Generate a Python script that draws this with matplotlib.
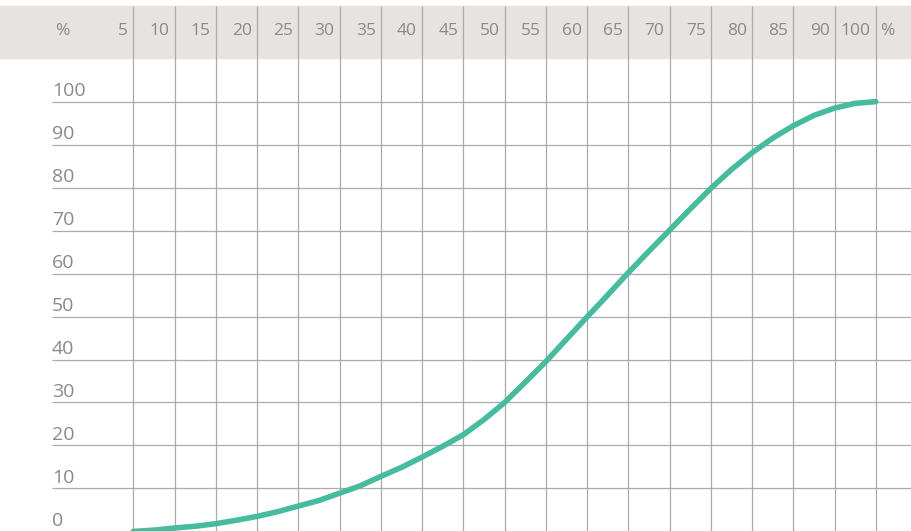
import matplotlib.pyplot as plt
import numpy as np

# Etiquetas de la cabecera (columnas) y del eje vertical
header_labels = ['5', '10', '15', '20', '25', '30', '35', '40', '45', '50',
                 '55', '60', '65', '70', '75', '80', '85', '90', '100']
y_labels = [0, 10, 20, 30, 40, 50, 60, 70, 80, 90, 100]

curve_cols = [0, 0.5, 1, 1.5, 2, 2.5, 3, 3.5, 4, 4.5, 5, 5.5, 6, 6.5, 7, 7.5,
              8, 8.5, 9, 9.5, 10, 10.5, 11, 11.5, 12, 12.5, 13, 13.5, 14,
              14.5, 15, 15.5, 16, 16.5, 17, 17.5, 18]
curve_vals = [0, 0.3, 0.8, 1.2, 1.8, 2.6, 3.5, 4.6, 5.9, 7.2, 8.9, 10.6,
              12.8, 14.9, 17.3, 19.8, 22.5, 26.0, 30.0, 34.7, 39.5, 44.7,
              49.9, 55.0, 60.2, 65.2, 70.1, 75.0, 79.8, 84.2, 88.1, 91.5,
              94.4, 96.8, 98.5, 99.6, 100]

text_color = '#8a8a8a'
grid_color = '#ababab'
curve_color = '#47bb9f'
header_bg = '#e6e3e0'
font = 'Open Sans'

fig = plt.figure(figsize=(9.12, 5.31), dpi=100)
ax = fig.add_axes([0, 0, 1, 1])
ax.set_xlim(-3.232, 18.878)
ax.set_ylim(0.1, 123.65)
ax.axis('off')

header_bottom = 110.16
header_top = 122.26

# Banda gris de la cabecera
ax.axhspan(header_bottom, header_top, color=header_bg, zorder=0)

# Líneas horizontales
ax.hlines([v for v in y_labels if v > 0], -1.98, 18.878, color=grid_color, lw=0.9, zorder=1)

# Líneas verticales
ax.vlines(np.arange(len(header_labels)), 0.1, header_top, color=grid_color, lw=0.9, zorder=1)

# Textos de la cabecera
for k, lab in enumerate(header_labels):
    ax.text(k - 0.12, 115.5, lab, ha='right', va='baseline', fontsize=12.5,
            color=text_color, family=font, zorder=3)
ax.text(-1.9, 115.5, '%', ha='left', va='baseline', fontsize=12.5,
        color=text_color, family=font, zorder=3)
ax.text(18.1, 115.5, '%', ha='left', va='baseline', fontsize=12.5,
        color=text_color, family=font, zorder=3)

# Etiquetas del eje vertical
for v in y_labels:
    ax.text(-1.97, v + 1.2, str(v), ha='left', va='baseline', fontsize=14,
            color=text_color, family=font, zorder=3)

# Curva
ax.plot(curve_cols, curve_vals, color=curve_color, lw=4,
        solid_capstyle='round', solid_joinstyle='round', zorder=2)

fig.savefig('out.png', dpi=100)
